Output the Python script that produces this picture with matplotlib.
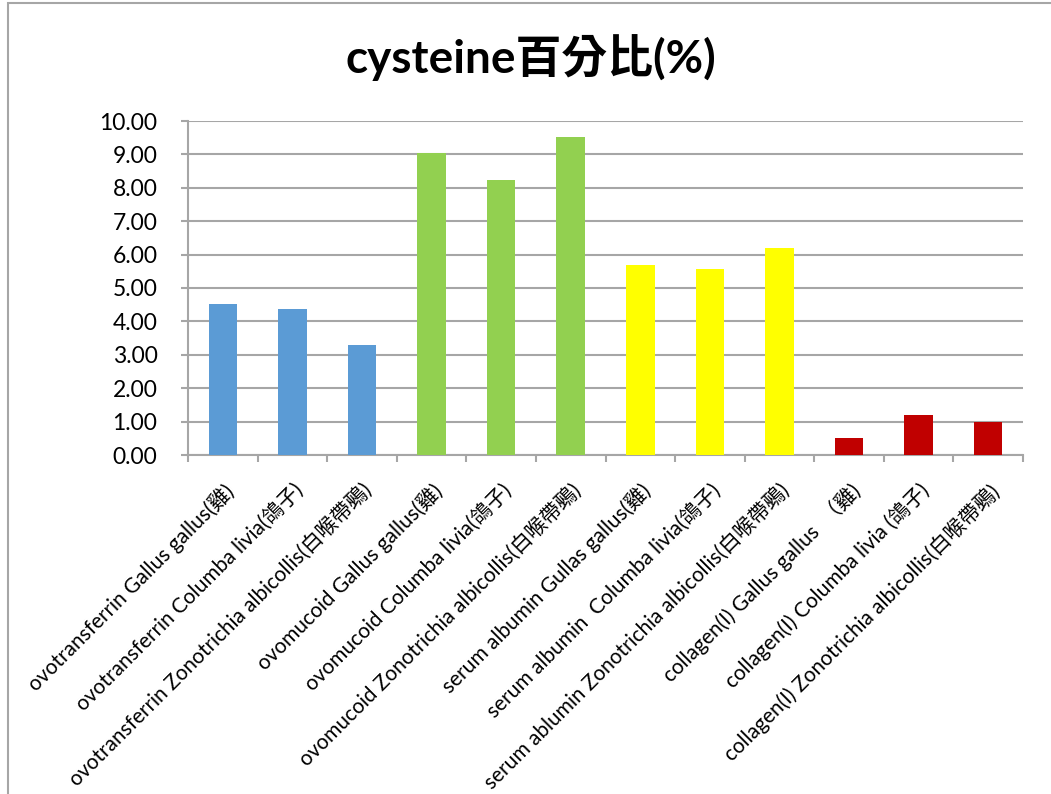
import numpy as np
import matplotlib
matplotlib.use("Agg")
import matplotlib.pyplot as plt
from matplotlib.patches import Rectangle

plt.rcParams['font.family'] = ['Lato', 'Noto Sans CJK TC', 'DejaVu Sans']

# cysteine percentage per protein / species
labels = [
    "ovotransferrin Gallus gallus(雞)",
    "ovotransferrin Columba livia(鴿子)",
    "ovotransferrin Zonotrichia albicollis(白喉帶鵐)",
    "ovomucoid Gallus gallus(雞)",
    "ovomucoid Columba livia(鴿子)",
    "ovomucoid Zonotrichia albicollis(白喉帶鵐)",
    "serum albumin Gullas gallus(雞)",
    "serum albumin  Columba livia(鴿子)",
    "serum ablumin Zonotrichia albicollis(白喉帶鵐)",
    "collagen(I) Gallus gallus  （雞)",
    "collagen(I) Columba livia (鴿子)",
    "collagen(I) Zonotrichia albicollis(白喉帶鵐)",
]
values = [4.53, 4.37, 3.30, 9.04, 8.23, 9.52, 5.69, 5.58, 6.21, 0.51, 1.20, 0.99]
colors = ["#5B9BD5"] * 3 + ["#92D050"] * 3 + ["#FFFF00"] * 3 + ["#C00000"] * 3
yticks = np.arange(0, 10.01, 1.0)

fig = plt.figure(figsize=(10.51, 7.94), dpi=100)

# chart area border (left and top edges visible)
fig.patches.append(Rectangle((8 / 1051, -0.05), 1.2, 1 - 3 / 794 + 0.05,
                             transform=fig.transFigure, fill=False,
                             edgecolor="#a6a6a6", linewidth=1.5))

ax = fig.add_axes([188 / 1051, (794 - 455) / 794, (1023 - 188) / 1051, (455 - 121) / 794])
x = np.arange(len(values))
ax.bar(x, values, width=0.41, color=colors, zorder=3)

ax.set_xlim(-0.5, len(values) - 0.5)
ax.set_ylim(0, 10)
ax.set_yticks(yticks)
ax.set_yticklabels(["%.2f" % v for v in yticks], fontsize=16.5)
ax.yaxis.grid(True, color="#a6a6a6", linewidth=1.5, zorder=0)

ax.set_xticks(x)
ax.set_xticklabels(labels, rotation=45, ha="right", va="top",
                   rotation_mode="anchor", fontsize=15)
ax.set_xticks(np.arange(-0.5, len(values)), minor=True)
ax.tick_params(axis="x", which="major", length=0, pad=18)
ax.tick_params(axis="x", which="minor", length=5, color="#a6a6a6", width=1.5)
ax.tick_params(axis="y", length=5, color="#a6a6a6", width=1.5, pad=17)

for s in ["top", "right"]:
    ax.spines[s].set_visible(False)
for s in ["left", "bottom"]:
    ax.spines[s].set_color("#a6a6a6")
    ax.spines[s].set_linewidth(1.5)

fig.text(531 / 1051, 1 - 58 / 794, "cysteine百分比(%)", ha="center", va="center",
         fontsize=33, fontweight="bold")

fig.savefig("out.png", dpi=100)
